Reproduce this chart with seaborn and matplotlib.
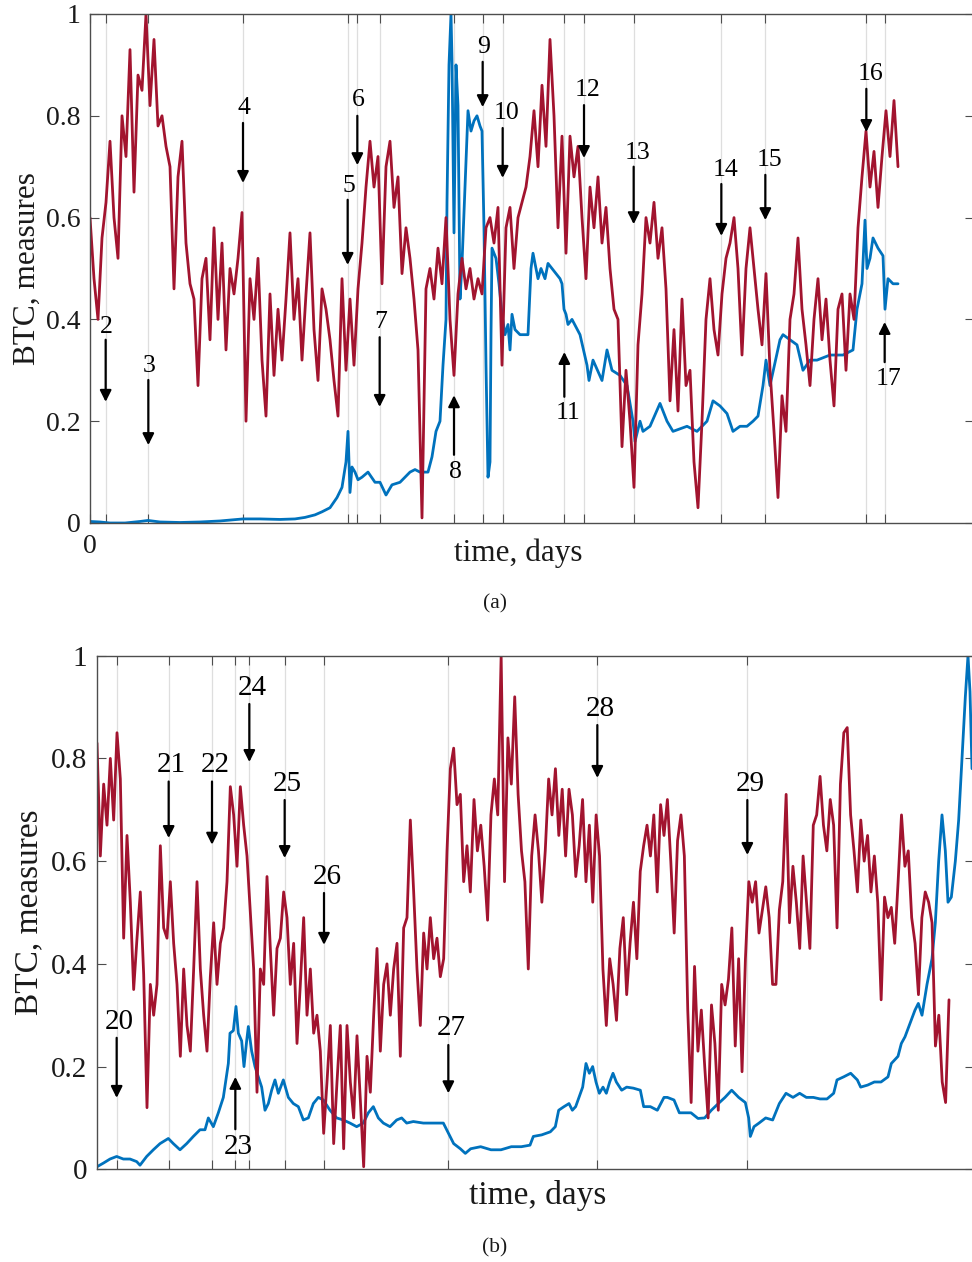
import numpy as np
import pandas as pd
import matplotlib
matplotlib.use("Agg")
import matplotlib.pyplot as plt
import seaborn as sns

# ---------------- panel (a) ----------------
# complexity measure, one value every 12 days starting at day 0
measure_a = [
    0.60, 0.48, 0.40, 0.56, 0.63, 0.75, 0.60, 0.52, 0.80, 0.72,
    0.93, 0.65, 0.88, 0.85, 1.00, 0.82, 0.95, 0.78, 0.80, 0.74,
    0.70, 0.46, 0.68, 0.75, 0.55, 0.47, 0.44, 0.27, 0.48, 0.52,
    0.36, 0.58, 0.40, 0.55, 0.34, 0.50, 0.45, 0.52, 0.61, 0.20,
    0.48, 0.40, 0.52, 0.32, 0.21, 0.45, 0.29, 0.42, 0.32, 0.44,
    0.57, 0.40, 0.48, 0.32, 0.45, 0.57, 0.38, 0.28, 0.46, 0.42,
    0.36, 0.28, 0.21, 0.48, 0.30, 0.44, 0.31, 0.46, 0.55, 0.66,
    0.75, 0.66, 0.72, 0.47, 0.70, 0.75, 0.62, 0.68, 0.49, 0.58,
    0.52, 0.44, 0.34, 0.01, 0.46, 0.50, 0.44, 0.54, 0.47, 0.60,
    0.40, 0.29, 0.45, 0.52, 0.46, 0.50, 0.44, 0.48, 0.45, 0.58,
    0.60, 0.55, 0.62, 0.31, 0.58, 0.62, 0.50, 0.60, 0.63, 0.66,
    0.72, 0.81, 0.70, 0.86, 0.74, 0.95, 0.80, 0.58, 0.76, 0.53,
    0.76, 0.68, 0.74, 0.60, 0.48, 0.66, 0.58, 0.68, 0.55, 0.62,
    0.50, 0.42, 0.40, 0.15, 0.30, 0.20, 0.07, 0.35, 0.45, 0.60,
    0.55, 0.63, 0.52, 0.58, 0.46, 0.24, 0.38, 0.22, 0.44, 0.27,
    0.30, 0.12, 0.03, 0.20, 0.40, 0.48, 0.38, 0.33, 0.45, 0.52,
    0.55, 0.60, 0.50, 0.33, 0.50, 0.58, 0.50, 0.42, 0.35, 0.49,
    0.30, 0.18, 0.05, 0.25, 0.18, 0.40, 0.45, 0.56, 0.42, 0.35,
    0.27, 0.40, 0.48, 0.36, 0.44, 0.32, 0.23, 0.42, 0.45, 0.30,
    0.45, 0.40, 0.58, 0.68, 0.77, 0.66, 0.73, 0.62, 0.72, 0.81,
    0.72, 0.83, 0.70,
]
measure_a_step = 12

# normalised BTC price
btc_a_day = [
    0, 30, 60, 105, 150, 174, 210, 270, 330, 390,
    459, 510, 570, 615, 645, 675, 696, 720, 741, 756,
    768, 774, 780, 786, 795, 804, 816, 834, 855, 870,
    888, 906, 930, 960, 975, 990, 1014, 1026, 1038, 1050,
    1059, 1068, 1071, 1077, 1083, 1086, 1092, 1098, 1104, 1110,
    1116, 1125, 1134, 1143, 1152, 1161, 1170, 1176, 1182, 1188,
    1194, 1200, 1203, 1206, 1212, 1218, 1227, 1236, 1245, 1254,
    1260, 1266, 1275, 1290, 1302, 1314, 1323, 1329, 1344, 1353,
    1365, 1374, 1386, 1398, 1410, 1416, 1422, 1428, 1434, 1446,
    1458, 1470, 1491, 1497, 1509, 1536, 1551, 1566, 1590, 1611,
    1629, 1635, 1650, 1659, 1680, 1710, 1731, 1749, 1791, 1821,
    1851, 1869, 1890, 1911, 1929, 1950, 1971, 1989, 2004, 2019,
    2028, 2040, 2070, 2079, 2100, 2121, 2139, 2160, 2181, 2220,
    2259, 2289, 2301, 2316, 2325, 2331, 2340, 2349, 2364, 2379,
    2385, 2394, 2409, 2424,
]
btc_a = [
    0.003, 0.002, 0.0, 0.0, 0.003, 0.005, 0.002, 0.001, 0.002, 0.004,
    0.008, 0.008, 0.007, 0.008, 0.011, 0.016, 0.022, 0.03, 0.05, 0.07,
    0.12, 0.18, 0.06, 0.11, 0.10, 0.085, 0.09, 0.10, 0.08, 0.08,
    0.055, 0.075, 0.08, 0.10, 0.105, 0.10, 0.10, 0.13, 0.18, 0.20,
    0.31, 0.40, 0.63, 0.90, 1.0, 0.91, 0.57, 0.90, 0.82, 0.44,
    0.51, 0.66, 0.81, 0.77, 0.79, 0.80, 0.78, 0.77, 0.58, 0.31,
    0.09, 0.12, 0.37, 0.54, 0.53, 0.52, 0.47, 0.41, 0.37, 0.39,
    0.34, 0.41, 0.38, 0.37, 0.37, 0.37, 0.50, 0.53, 0.48, 0.50,
    0.48, 0.51, 0.50, 0.49, 0.48, 0.47, 0.42, 0.41, 0.39, 0.40,
    0.385, 0.37, 0.31, 0.28, 0.32, 0.28, 0.34, 0.30, 0.29, 0.27,
    0.20, 0.16, 0.20, 0.18, 0.19, 0.235, 0.20, 0.18, 0.19, 0.18,
    0.20, 0.24, 0.23, 0.215, 0.18, 0.19, 0.19, 0.20, 0.21, 0.27,
    0.32, 0.27, 0.36, 0.37, 0.36, 0.35, 0.30, 0.32, 0.32, 0.33,
    0.33, 0.34, 0.42, 0.47, 0.595, 0.50, 0.52, 0.56, 0.54, 0.525,
    0.42, 0.48, 0.47, 0.47,
]

events_a = [47, 175, 459, 773, 802, 869, 1092, 1178, 1238, 1423,
            1482, 1631, 1894, 2026, 2329, 2384]
event_labels_a = ['2', '3', '4', '5', '6', '7', '8', '9', '10', '11',
                  '12', '13', '14', '15', '16', '17']

# ---------------- panel (b) ----------------
measure_b = [
    0.83, 0.61, 0.75, 0.67, 0.80, 0.68, 0.85, 0.76,
    0.45, 0.65, 0.52, 0.35, 0.45, 0.54, 0.38, 0.12, 0.36, 0.30,
    0.36, 0.63, 0.47, 0.45, 0.56, 0.44, 0.36, 0.22, 0.39, 0.28,
    0.23, 0.39, 0.56, 0.39, 0.30, 0.23, 0.375, 0.48, 0.36, 0.44,
    0.47, 0.56, 0.745, 0.69, 0.59, 0.745, 0.67, 0.61, 0.50, 0.39,
    0.15, 0.39, 0.36, 0.57, 0.43, 0.30, 0.43, 0.45, 0.54, 0.49,
    0.36, 0.44, 0.245, 0.36, 0.49, 0.30, 0.39, 0.265, 0.30, 0.23,
    0.07, 0.17, 0.28, 0.05, 0.17, 0.28, 0.04, 0.28, 0.17, 0.10,
    0.26, 0.135, 0.005, 0.22, 0.15, 0.30, 0.43, 0.23, 0.36, 0.40,
    0.30, 0.39, 0.44, 0.22, 0.47, 0.49, 0.68, 0.54, 0.39, 0.28,
    0.46, 0.39, 0.49, 0.41, 0.45, 0.375, 0.41, 0.62, 0.78, 0.82,
    0.71, 0.73, 0.56, 0.63, 0.54,
    0.72, 0.62, 0.67, 0.59, 0.485, 0.69, 0.76, 0.69, 1.00, 0.56,
    0.84, 0.75, 0.92, 0.73, 0.62, 0.56, 0.39, 0.61, 0.69, 0.62,
    0.52, 0.62, 0.76, 0.69, 0.78, 0.65, 0.74, 0.61, 0.74, 0.69,
    0.57, 0.63, 0.72, 0.56, 0.67, 0.52, 0.69, 0.61, 0.39, 0.28,
    0.41, 0.36, 0.29, 0.43, 0.49, 0.34, 0.44, 0.52, 0.41, 0.58,
    0.63, 0.67, 0.61, 0.69, 0.54, 0.71, 0.65, 0.72, 0.60, 0.46,
    0.64, 0.69, 0.61, 0.31, 0.13, 0.395, 0.23, 0.31, 0.20, 0.10,
    0.32, 0.245, 0.115, 0.36, 0.32, 0.37, 0.47, 0.24, 0.41, 0.19,
    0.41, 0.56, 0.52, 0.56, 0.46, 0.505, 0.55, 0.49, 0.36, 0.36,
    0.505, 0.56, 0.73, 0.48, 0.59, 0.52, 0.43, 0.61, 0.52, 0.43,
    0.67, 0.69, 0.765, 0.67, 0.62, 0.72, 0.67, 0.47, 0.75, 0.85,
    0.86, 0.69, 0.62, 0.54, 0.68, 0.60, 0.65, 0.54, 0.61, 0.52,
    0.33, 0.53, 0.49, 0.51, 0.44, 0.56, 0.69, 0.59, 0.62, 0.49,
    0.44, 0.34, 0.49, 0.54, 0.52, 0.48, 0.24, 0.30, 0.17, 0.13,
    0.33,
]
# first 113 values every 10 days, the rest on a slightly wider grid up to day 2556
measure_b_day = np.concatenate([np.arange(0, 1121, 10), np.linspace(1131, 2556, 141)])

btc_b_day = [
    0, 19, 39, 59, 79, 99, 119, 129, 149, 169,
    189, 214, 229, 249, 269, 289, 309, 324, 334, 349,
    364, 379, 394, 399, 409, 417, 424, 434, 441, 449,
    454, 464, 474, 484, 494, 504, 514, 524, 534, 544,
    559, 574, 589, 604, 619, 634, 649, 664, 679, 699,
    719, 739, 759, 779, 799, 814, 829, 844, 859, 879,
    899, 914, 929, 949, 979, 1009, 1039,
    1049, 1070, 1090, 1105, 1121, 1151, 1182, 1212, 1243, 1273,
    1299, 1309, 1334, 1360, 1375, 1385, 1401, 1416, 1426, 1436,
    1446, 1457, 1467, 1477, 1487, 1497, 1507, 1518, 1528, 1538,
    1548, 1558, 1574, 1589, 1609, 1630, 1640, 1660, 1681, 1701,
    1711, 1731, 1747, 1762, 1782, 1803, 1823, 1843, 1864, 1884,
    1904, 1925, 1945, 1955, 1960, 1971, 1986, 2006, 2027, 2047,
    2067, 2088, 2108, 2128, 2149, 2169, 2190, 2210, 2220, 2240,
    2261, 2281, 2291, 2312, 2332, 2352, 2373, 2383, 2403, 2413,
    2424, 2439, 2454, 2464, 2475, 2490, 2505, 2515, 2525, 2535,
    2545, 2553, 2563, 2575, 2585, 2595, 2605, 2613, 2619, 2625,
]
btc_b = [
    0.005, 0.012, 0.02, 0.025, 0.02, 0.02, 0.015, 0.008, 0.025, 0.038,
    0.05, 0.06, 0.05, 0.038, 0.05, 0.064, 0.077, 0.077, 0.10, 0.083,
    0.11, 0.14, 0.206, 0.265, 0.27, 0.317, 0.265, 0.25, 0.20, 0.25,
    0.278, 0.23, 0.20, 0.18, 0.16, 0.115, 0.128, 0.154, 0.174, 0.148,
    0.174, 0.14, 0.128, 0.122, 0.096, 0.10, 0.128, 0.14, 0.135, 0.115,
    0.10, 0.096, 0.09, 0.083, 0.09, 0.11, 0.122, 0.10, 0.09, 0.083,
    0.096, 0.10, 0.09, 0.093, 0.09, 0.09, 0.09,
    0.077, 0.05, 0.04, 0.031, 0.04, 0.044, 0.038, 0.038, 0.044, 0.044,
    0.047, 0.064, 0.067, 0.073, 0.083, 0.115, 0.122, 0.128, 0.115, 0.122,
    0.14, 0.16, 0.206, 0.187, 0.20, 0.17, 0.148, 0.16, 0.148, 0.17,
    0.187, 0.17, 0.154, 0.16, 0.158, 0.154, 0.122, 0.122, 0.115, 0.14,
    0.14, 0.135, 0.11, 0.11, 0.11, 0.099, 0.10, 0.115, 0.128, 0.14,
    0.154, 0.14, 0.13, 0.10, 0.064, 0.083, 0.09, 0.10, 0.096, 0.128,
    0.148, 0.14, 0.148, 0.14, 0.14, 0.137, 0.137, 0.148, 0.174, 0.18,
    0.187, 0.174, 0.16, 0.164, 0.17, 0.17, 0.18, 0.206, 0.22, 0.245,
    0.258, 0.284, 0.31, 0.323, 0.30, 0.36, 0.41, 0.48, 0.60, 0.69,
    0.62, 0.52, 0.53, 0.60, 0.68, 0.80, 0.92, 1.0, 0.93, 0.78,
]

events_b = [59, 215, 345, 415, 457, 563, 681, 1054, 1501, 1951]
event_labels_b = ['20', '21', '22', '23', '24', '25', '26', '27', '28', '29']

# arrow layout per event: (label level, arrow tail, arrow head)
arrows_a = [
    (0.385, 0.360, 0.238), (0.308, 0.281, 0.153), (0.815, 0.786, 0.668),
    (0.662, 0.635, 0.507), (0.831, 0.800, 0.703), (0.395, 0.365, 0.228),
    (0.100, 0.134, 0.251), (0.935, 0.906, 0.817), (0.805, 0.776, 0.678),
    (0.216, 0.248, 0.336), (0.851, 0.821, 0.717), (0.727, 0.700, 0.587),
    (0.694, 0.666, 0.564), (0.713, 0.684, 0.595), (0.882, 0.853, 0.768),
    (0.283, 0.316, 0.395),
]
arrows_b = [
    (0.287, 0.256, 0.139), (0.787, 0.755, 0.645), (0.787, 0.755, 0.632),
    (0.043, 0.078, 0.180), (0.937, 0.906, 0.793), (0.750, 0.719, 0.606),
    (0.569, 0.538, 0.437), (0.275, 0.242, 0.148), (0.896, 0.865, 0.762),
    (0.750, 0.719, 0.612),
]

RED = "#A2142F"
BLUE = "#0072BD"
AXIS = "#4d4d4d"
TEXT = "#1a1a1a"

sns.set_theme(style="ticks")
plt.rcParams["font.family"] = ["Liberation Serif", "DejaVu Serif"]

W, H = 972, 1262
fig = plt.figure(figsize=(W / 100, H / 100), dpi=100)
ax_a = fig.add_axes([90 / W, 1 - 523 / H, (974 - 90) / W, 509 / H])
ax_b = fig.add_axes([97 / W, 1 - 1169.3 / H, (974 - 97) / W, 513.6 / H])


def draw_panel(ax, t_meas, meas, t_btc, btc, events, labels, arrows, xmax,
               fs_tick, fs_label, fs_ann, label_dx, xlabel_xy, ylabel_xy,
               zero_label):
    df_btc = pd.DataFrame({"day": t_btc, "value": btc})
    df_meas = pd.DataFrame({"day": t_meas, "value": meas})
    sns.lineplot(data=df_btc, x="day", y="value", ax=ax, color=BLUE,
                 lw=2.0, sort=False, estimator=None)
    sns.lineplot(data=df_meas, x="day", y="value", ax=ax, color=RED,
                 lw=2.0, sort=False, estimator=None)

    ax.set_xlim(0, xmax)
    ax.set_ylim(0, 1)

    ticks = ([0] if zero_label else []) + list(events)
    ax.set_xticks(ticks)
    ax.set_xticklabels((["0"] if zero_label else []) + [""] * len(events))
    ax.set_yticks([0, 0.2, 0.4, 0.6, 0.8, 1.0])
    ax.set_yticklabels(["0", "0.2", "0.4", "0.6", "0.8", "1"])
    ax.tick_params(direction="in", length=6.5, width=0.8, color=AXIS,
                   top=True, right=True, labelsize=fs_tick,
                   labelcolor=TEXT)
    ax.tick_params(axis="y", pad=7)
    ax.tick_params(axis="x", pad=8)

    for ev in events:
        ax.axvline(ev, color="#dedede", lw=0.9, zorder=0)
    ax.grid(False)

    for side in ["left", "bottom", "top", "right"]:
        ax.spines[side].set_color(AXIS)
        ax.spines[side].set_linewidth(1.0)

    for ev, lab, (lvl, tail, head) in zip(events, labels, arrows):
        ax.annotate("", xy=(ev, head), xytext=(ev, tail),
                    arrowprops=dict(arrowstyle="-|>", color="black", lw=1.6,
                                    mutation_scale=17, shrinkA=0, shrinkB=0))
        dx = label_dx if len(lab) > 1 else 3
        ax.text(ev + dx, lvl, lab, ha="center", va="center",
                fontsize=fs_ann, color="black")

    ax.set_xlabel("time, days", fontsize=fs_label, color=TEXT)
    ax.set_ylabel("BTC, measures", fontsize=fs_label, color=TEXT)
    ax.xaxis.set_label_coords(*xlabel_xy)
    ax.yaxis.set_label_coords(*ylabel_xy)


draw_panel(ax_a, np.arange(len(measure_a)) * measure_a_step, measure_a,
           btc_a_day, btc_a, events_a, event_labels_a, arrows_a,
           xmax=(974 - 90) * 3, fs_tick=20, fs_label=22.5, fs_ann=18.5,
           label_dx=12, xlabel_xy=(0.484, -0.03), ylabel_xy=(-0.055, 0.5),
           zero_label=True)
draw_panel(ax_b, measure_b_day, measure_b,
           btc_b_day, btc_b, events_b, event_labels_b, arrows_b,
           xmax=(974 - 97) * 3, fs_tick=21, fs_label=24, fs_ann=21,
           label_dx=9, xlabel_xy=(0.502, -0.021), ylabel_xy=(-0.06, 0.5),
           zero_label=False)

fig.text(495 / W, 1 - 604 / H, "(a)", ha="center", va="center",
         fontsize=15.5, color=TEXT)
fig.text(495 / W, 1 - 1248 / H, "(b)", ha="center", va="center",
         fontsize=15.5, color=TEXT)

fig.savefig("out.png", dpi=100)
